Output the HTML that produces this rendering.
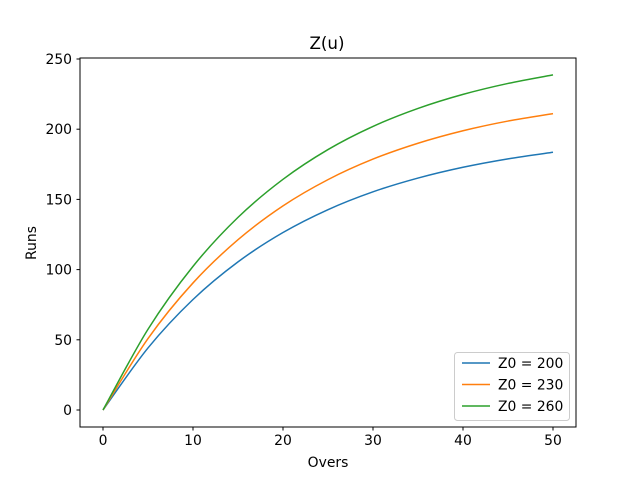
<!DOCTYPE html>
<html><head><meta charset="utf-8"><style>
html,body{margin:0;padding:0;background:#fff;}
svg{display:block;font-family:"DejaVu Sans","Liberation Sans",sans-serif;}
</style></head><body>
<svg id="chart" width="640" height="480" viewBox="0 0 640 480">
<rect x="0" y="0" width="640" height="480" fill="#fff"/>
<text x="327" y="49" font-size="16.7" text-anchor="middle" fill="#000">Z(u)</text>
<g id="ticks"></g>
<g id="series"></g>
<rect x="80" y="58" width="496" height="369" fill="none" stroke="#000" stroke-width="1"/>
<text x="328" y="467" font-size="13.9" text-anchor="middle">Overs</text>
<text x="0" y="0" font-size="13.9" text-anchor="middle" transform="translate(36,243) rotate(-90)">Runs</text>
<g id="legend"></g>
</svg>
<script>
const overs = [0,5,10,15,20,25,30,35,40,45,50];
const runs200 = [0,44.2,78.7,105.5,126.4,142.7,155.4,165.2,172.9,178.9,183.6];
const runs230 = [0,50.9,90.5,121.3,145.4,164.1,178.7,190.0,198.9,205.8,211.1];
const runs260 = [0,57.5,102.3,137.2,164.3,185.5,202.0,214.8,224.8,232.6,238.7];
const seriesNames = ["Z0 = 200","Z0 = 230","Z0 = 260"];
const xTicks = [0,10,20,30,40,50];
const yTicks = [0,50,100,150,200,250];

const NS="http://www.w3.org/2000/svg";
const xs = v => 103 + v*9;
const ys = v => 410 - v*1.404;
const colors=["#1f77b4","#ff7f0e","#2ca02c"];
const tg=document.getElementById('ticks');
function mk(tag,attrs,parent){const e=document.createElementNS(NS,tag);for(const k in attrs)e.setAttribute(k,attrs[k]);parent.appendChild(e);return e;}
xTicks.forEach(t=>{
  const l=mk('line',{x1:xs(t),x2:xs(t),y1:427,y2:430.5,stroke:'#000'},tg);
  
  
  const tx=mk('text',{x:xs(t),y:445,'font-size':13.9,'text-anchor':'middle'},tg);
  tx.textContent=t;
  
  
});
yTicks.forEach(t=>{
  const l=mk('line',{x1:76.5,x2:80,y1:ys(t),y2:ys(t),stroke:'#000'},tg);
  
  
  const tx=mk('text',{x:72,y:ys(t)+5,'font-size':13.9,'text-anchor':'end'},tg);
  tx.textContent=t;
  
  
});
function pathFor(vals){
  const p=overs.map((o,i)=>[xs(o),ys(vals[i])]);
  let d=`M${p[0][0]},${p[0][1]}`;
  for(let i=0;i<p.length-1;i++){
    const p0=p[Math.max(0,i-1)],p1=p[i],p2=p[i+1],p3=p[Math.min(p.length-1,i+2)];
    const c1=[p1[0]+(p2[0]-p0[0])/6,p1[1]+(p2[1]-p0[1])/6];
    const c2=[p2[0]-(p3[0]-p1[0])/6,p2[1]-(p3[1]-p1[1])/6];
    d+=` C${c1[0]},${c1[1]} ${c2[0]},${c2[1]} ${p2[0]},${p2[1]}`;
  }
  return d;
}
const sg=document.getElementById('series');
[runs200,runs230,runs260].forEach((vals,i)=>{
  const path=mk('path',{d:pathFor(vals),fill:'none',stroke:colors[i],'stroke-width':1.5},sg);
  
  
});
const lg=document.getElementById('legend');
mk('rect',{x:454.5,y:352.5,width:115,height:68,rx:3,fill:'#fff','fill-opacity':0.8,stroke:'#ccc'},lg);
seriesNames.forEach((n,i)=>{
  const y=363+i*21.5;
  const l=mk('line',{x1:462,x2:490,y1:y,y2:y,stroke:colors[i],'stroke-width':1.5},lg);
  
  
  const t=mk('text',{x:498,y:y+5,'font-size':13.9},lg);
  t.textContent=n;
  
  
});
</script>
</body></html>
